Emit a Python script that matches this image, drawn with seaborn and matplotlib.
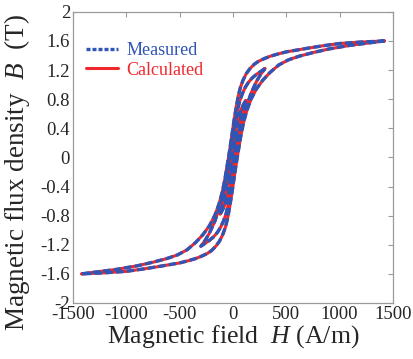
import matplotlib
matplotlib.use("Agg")
import matplotlib.pyplot as plt
import seaborn as sns
from matplotlib.lines import Line2D

# Datos (H en A/m, B en T)
# lazo mayor
h_major_desc = [1420, 1200, 1000, 850, 700, 600, 500, 420, 350, 290, 240, 200, 160, 125, 95, 70, 50, 30, 10,
                -10, -30, -50, -75, -100, -130, -170, -220, -280, -350, -430, -520, -620, -750, -900, -1100, -1420]
b_major_desc = [1.60, 1.585, 1.565, 1.535, 1.50, 1.475, 1.45, 1.42, 1.39, 1.355, 1.32, 1.28, 1.22, 1.15, 1.06, 0.96, 0.84, 0.68, 0.50,
                0.30, 0.10, -0.08, -0.30, -0.48, -0.64, -0.80, -0.94, -1.06, -1.17, -1.27, -1.34, -1.39, -1.44, -1.49, -1.54, -1.60]
h_major_asc = [-1420, -1200, -1000, -850, -700, -600, -500, -420, -350, -290, -240, -200, -160, -125, -95, -70, -50, -30, -10,
               10, 30, 50, 75, 100, 130, 170, 220, 280, 350, 430, 520, 620, 750, 900, 1100, 1420]
b_major_asc = [-1.60, -1.585, -1.565, -1.535, -1.50, -1.475, -1.45, -1.42, -1.39, -1.355, -1.32, -1.28, -1.22, -1.15, -1.06, -0.96, -0.84, -0.68, -0.50,
               -0.30, -0.10, 0.08, 0.30, 0.48, 0.64, 0.80, 0.94, 1.06, 1.17, 1.27, 1.34, 1.39, 1.44, 1.49, 1.54, 1.60]

# lazo menor 1 (Hm ~ 300)
h_m1_desc = [300, 260, 220, 180, 145, 115, 90, 65, 45, 25, 8, -10, -30, -50, -75, -100, -130, -170, -220, -260, -300]
b_m1_desc = [1.22, 1.18, 1.14, 1.09, 1.03, 0.96, 0.88, 0.78, 0.66, 0.52, 0.38, 0.22, 0.04, -0.14, -0.36, -0.54, -0.71, -0.88, -1.04, -1.14, -1.22]
h_m1_asc = [-300, -260, -220, -180, -145, -115, -90, -65, -45, -25, -8, 10, 30, 50, 75, 100, 130, 170, 220, 260, 300]
b_m1_asc = [-1.22, -1.18, -1.14, -1.09, -1.03, -0.96, -0.88, -0.78, -0.66, -0.52, -0.38, -0.22, -0.04, 0.14, 0.36, 0.54, 0.71, 0.88, 1.04, 1.14, 1.22]

# lazo menor 2 (Hm ~ 120)
h_m2_desc = [120, 100, 80, 60, 42, 25, 10, -5, -20, -38, -58, -80, -100, -120]
b_m2_desc = [0.78, 0.73, 0.67, 0.59, 0.49, 0.38, 0.26, 0.13, -0.02, -0.19, -0.38, -0.56, -0.68, -0.78]
h_m2_asc = [-120, -100, -80, -60, -42, -25, -10, 5, 20, 38, 58, 80, 100, 120]
b_m2_asc = [-0.78, -0.73, -0.67, -0.59, -0.49, -0.38, -0.26, -0.13, 0.02, 0.19, 0.38, 0.56, 0.68, 0.78]

# lazo menor 3 (Hm ~ 40)
h_m3_desc = [40, 30, 18, 6, -5, -15, -27, -40]
b_m3_desc = [0.36, 0.31, 0.23, 0.13, 0.03, -0.07, -0.20, -0.36]
h_m3_asc = [-40, -30, -18, -6, 5, 15, 27, 40]
b_m3_asc = [-0.36, -0.31, -0.23, -0.13, -0.03, 0.07, 0.20, 0.36]

x_ticks = [-1500, -1000, -500, 0, 500, 1000, 1500]
x_labels = ["-1500", "-1000", "-500", "0", "500", "1000", "1500"]
y_ticks = [-2, -1.6, -1.2, -0.8, -0.4, 0, 0.4, 0.8, 1.2, 1.6, 2]
y_labels = ["-2", "-1.6", "-1.2", "-0.8", "-0.4", "0", "0.4", "0.8", "1.2", "1.6", "2"]

loops = [
    (h_major_desc + h_major_asc[1:], b_major_desc + b_major_asc[1:]),
    (h_m1_desc + h_m1_asc[1:], b_m1_desc + b_m1_asc[1:]),
    (h_m2_desc + h_m2_asc[1:], b_m2_desc + b_m2_asc[1:]),
    (h_m3_desc + h_m3_asc[1:], b_m3_desc + b_m3_asc[1:]),
]

sns.set_style("white")
plt.rcParams["font.family"] = ["Liberation Serif", "DejaVu Serif"]
plt.rcParams["mathtext.fontset"] = "custom"
plt.rcParams["mathtext.rm"] = "Liberation Serif"
plt.rcParams["mathtext.it"] = "Liberation Serif:italic"
plt.rcParams["axes.unicode_minus"] = False

blue = "#2f55b5"
red = "#f0282d"

fig = plt.figure(figsize=(4.14, 3.59), dpi=100)
ax = fig.add_axes([0.176, 0.156, 0.773, 0.811])

# calculado (rojo, continuo) y medido (azul, discontinuo) encima
for h, b in loops:
    sns.lineplot(x=h, y=b, sort=False, estimator=None, ax=ax,
                 color=red, linewidth=2.2, legend=False)
for h, b in loops:
    sns.lineplot(x=h, y=b, sort=False, estimator=None, ax=ax,
                 color=blue, linewidth=2.4, linestyle=(0, (2.2, 1.0)), legend=False)

ax.set_xlim(-1500, 1500)
ax.set_ylim(-2, 2)
ax.set_xticks(x_ticks)
ax.set_xticklabels(x_labels)
ax.set_yticks(y_ticks)
ax.set_yticklabels(y_labels)
ax.tick_params(direction="in", top=True, right=True, length=3.5, width=0.8,
               color="#9a9a9a", labelsize=13.5, pad=2)
for s in ax.spines.values():
    s.set_color("#9a9a9a")
    s.set_linewidth(0.9)

ax.set_xlabel("Magnetic field  $H$ (A/m)", fontsize=18.5, labelpad=0)
ax.set_ylabel("Magnetic flux density  $B$  (T)", fontsize=19.5)
ax.yaxis.set_label_coords(-0.128, 0.45)

handles = [
    Line2D([], [], color=blue, linewidth=2.4, linestyle=(0, (1.2, 0.6))),
    Line2D([], [], color=red, linewidth=2.2),
]
ax.legend(handles, ["Measured", "Calculated"], loc="upper left", frameon=False,
          fontsize=13, labelcolor=[blue, red], handlelength=1.8, handletextpad=0.45,
          borderaxespad=0.3, labelspacing=0.15, bbox_to_anchor=(0.0, 0.94))

fig.savefig("out.png", dpi=100)
